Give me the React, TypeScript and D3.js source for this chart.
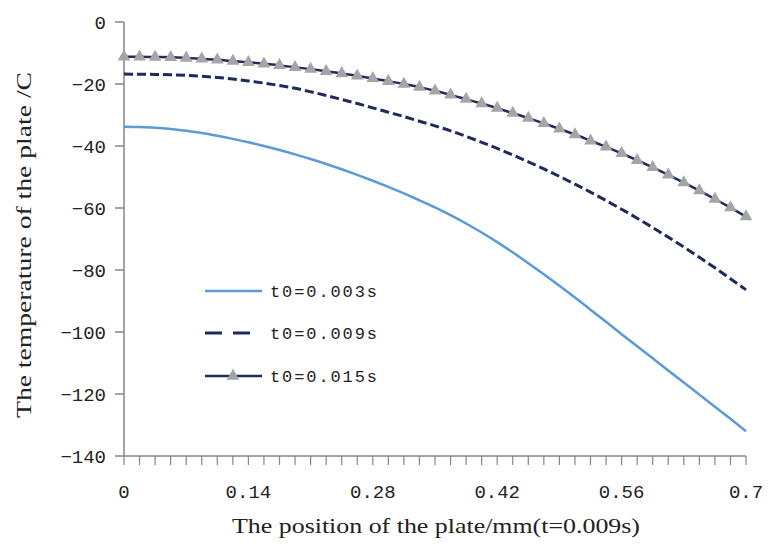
import React from "react";
import * as d3 from "d3";

// x categories (plate position, mm) – 41 evenly spaced categories from 0 to 0.7
const positions: number[] = d3.range(41).map((i) => +(i * 0.0175).toFixed(4));

const seriesNames = ["t0=0.003s", "t0=0.009s", "t0=0.015s"];

const t003: number[] = [
  -33.8, -33.9, -34.1, -34.5, -35.1, -35.8, -36.7, -37.7, -38.8, -40.0,
  -41.3, -42.7, -44.2, -45.8, -47.5, -49.3, -51.2, -53.2, -55.3, -57.5,
  -59.8, -62.3, -65.0, -67.9, -71.0, -74.3, -77.8, -81.4, -85.1, -88.9,
  -92.8, -96.7, -100.7, -104.6, -108.5, -112.4, -116.3, -120.2, -124.1, -128.0,
  -132.0,
];

const t009: number[] = [
  -16.8, -16.85, -16.9, -17.0, -17.2, -17.5, -17.9, -18.4, -19.0, -19.7,
  -20.5, -21.4, -22.5, -23.7, -25.0, -26.3, -27.7, -29.1, -30.5, -32.0,
  -33.5, -35.1, -36.9, -38.8, -40.8, -42.9, -45.1, -47.4, -49.8, -52.3,
  -54.9, -57.6, -60.4, -63.3, -66.3, -69.4, -72.6, -75.9, -79.3, -82.8,
  -86.4,
];

const t015: number[] = [
  -11.2, -11.2, -11.3, -11.4, -11.6, -11.9, -12.2, -12.6, -13.0, -13.5,
  -14.0, -14.6, -15.2, -15.9, -16.6, -17.4, -18.2, -19.1, -20.0, -21.0,
  -22.2, -23.5, -24.9, -26.3, -27.8, -29.4, -31.0, -32.7, -34.5, -36.3,
  -38.3, -40.3, -42.4, -44.6, -46.9, -49.3, -51.8, -54.4, -57.1, -59.9,
  -62.8,
];

const xTickValues = [0, 0.14, 0.28, 0.42, 0.56, 0.7];
const xTickLabels = ["0", "0.14", "0.28", "0.42", "0.56", "0.7"];
const yTickValues = [0, -20, -40, -60, -80, -100, -120, -140];

const xTitle = "The position of the plate/mm(t=0.009s)";
const yTitle = "The temperature of the plate /C";

const W = 768;
const H = 547;
const left = 124;
const right = 746;
const top = 22;
const bottom = 456;

const axisColor = "#868686";
const c1 = "#5B9BD5";
const c2 = "#1F2A5C";
const c3 = "#1F2D5E";
const markerColor = "#A5A5A5";
const monoFont = "'Liberation Mono', 'DejaVu Sans Mono', monospace";
const serifFont = "'Liberation Serif', 'Times New Roman', serif";

export default function App() {
  const x = d3.scaleLinear().domain([0, 0.7]).range([left, right]);
  const y = d3.scaleLinear().domain([-140, 0]).range([bottom, top]);

  const line = d3
    .line<number>()
    .x((_, i) => x(positions[i]))
    .y((d) => y(d))
    .curve(d3.curveMonotoneX);

  const tri = d3.symbol().type(d3.symbolTriangle).size(70)();

  const legendRows = [291, 333, 376];
  const legendX0 = 205;
  const legendX1 = 262;

  return (
    <svg
      width={W}
      height={H}
      viewBox={`0 0 ${W} ${H}`}
      style={{ position: "absolute", left: 0, top: 0, background: "#fff" }}
    >
      <rect x={0} y={0} width={W} height={H} fill="#fff" />

      {/* Y axis */}
      <line x1={left} x2={left} y1={top} y2={bottom} stroke={axisColor} strokeWidth={1.5} />
      {yTickValues.map((v) => (
        <g key={"y" + v}>
          <line x1={left - 9} x2={left} y1={y(v)} y2={y(v)} stroke={axisColor} strokeWidth={1.5} />
          <text
            x={106}
            y={y(v)}
            dy="0.36em"
            textAnchor="end"
            fontFamily={monoFont}
            fontSize={19}
            fill="#222"
          >
            {v === 0 ? "0" : "\u2212" + Math.abs(v)}
          </text>
        </g>
      ))}

      {/* X axis */}
      <line x1={left} x2={right} y1={bottom} y2={bottom} stroke={axisColor} strokeWidth={1.5} />
      {positions.map((p, i) => (
        <line
          key={"xt" + i}
          x1={x(p)}
          x2={x(p)}
          y1={bottom}
          y2={bottom + 9}
          stroke={axisColor}
          strokeWidth={1.2}
        />
      ))}
      {xTickValues.map((v, i) => (
        <text
          key={"xl" + i}
          x={x(v)}
          y={498}
          textAnchor="middle"
          fontFamily={monoFont}
          fontSize={19}
          fill="#222"
        >
          {xTickLabels[i]}
        </text>
      ))}

      {/* Titles */}
      <text
        x={436}
        y={533}
        textAnchor="middle"
        fontFamily={serifFont}
        fontSize={21}
        fill="#222"
        textLength={408}
        lengthAdjust="spacingAndGlyphs"
      >
        {xTitle}
      </text>
      <text
        transform={`translate(31,245) rotate(-90)`}
        textAnchor="middle"
        fontFamily={serifFont}
        fontSize={21}
        fill="#222"
        textLength={346}
        lengthAdjust="spacingAndGlyphs"
      >
        {yTitle}
      </text>

      {/* Series */}
      <path d={line(t003) || ""} fill="none" stroke={c1} strokeWidth={2.5} />
      <path d={line(t009) || ""} fill="none" stroke={c2} strokeWidth={3} strokeDasharray="9,4" />
      <path d={line(t015) || ""} fill="none" stroke={c3} strokeWidth={2.5} />
      {t015.map((v, i) => (
        <path
          key={"m" + i}
          d={tri || ""}
          transform={`translate(${x(positions[i])},${y(v)})`}
          fill={markerColor}
        />
      ))}

      {/* Legend */}
      <line x1={legendX0} x2={legendX1} y1={legendRows[0]} y2={legendRows[0]} stroke={c1} strokeWidth={2.5} />
      <line
        x1={legendX0}
        x2={250}
        y1={legendRows[1]}
        y2={legendRows[1]}
        stroke={c2}
        strokeWidth={3}
        strokeDasharray="17,11"
      />
      <line x1={legendX0} x2={legendX1} y1={legendRows[2]} y2={legendRows[2]} stroke={c3} strokeWidth={2.5} />
      <path d={tri || ""} transform={`translate(233,${legendRows[2]})`} fill={markerColor} />
      {seriesNames.map((n, i) => (
        <text
          key={"lg" + i}
          x={270}
          y={legendRows[i]}
          dy="0.36em"
          fontFamily={monoFont}
          fontSize={17}
          fill="#222"
          textLength={107}
          lengthAdjust="spacing"
        >
          {n}
        </text>
      ))}
    </svg>
  );
}
